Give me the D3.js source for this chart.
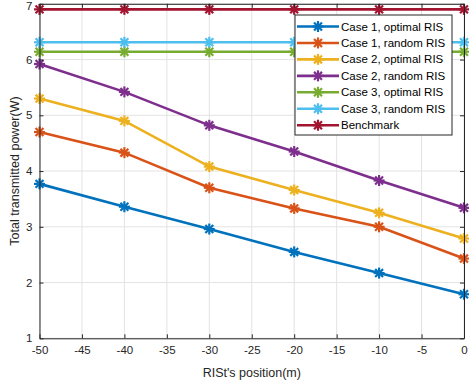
<!DOCTYPE html>
<html>
<head>
<meta charset="utf-8">
<script src="https://cdn.jsdelivr.net/npm/d3@7"></script>
<style>
  html, body { margin: 0; padding: 0; background: #fff; }
  svg { display: block; font-family: "Liberation Sans", Arial, Helvetica, sans-serif; }
</style>
</head>
<body>
<svg id="chart" width="469" height="389"></svg>
<script>
// RIS position (m) on the x axis
const positions = [-50, -40, -30, -20, -10, 0];

// Total transmitted power (W) per scheme
const case1Optimal = [3.77, 3.36, 2.96, 2.55, 2.17, 1.79];
const case1Random  = [4.70, 4.33, 3.70, 3.33, 3.00, 2.43];
const case2Optimal = [5.30, 4.90, 4.08, 3.66, 3.25, 2.79];
const case2Random  = [5.92, 5.42, 4.82, 4.35, 3.83, 3.34];
const case3Optimal = [6.14, 6.14, 6.14, 6.14, 6.14, 6.14];
const case3Random  = [6.31, 6.31, 6.31, 6.31, 6.31, 6.31];
const benchmark    = [6.90, 6.90, 6.90, 6.90, 6.90, 6.90];

const seriesNames = [
  "Case 1, optimal RIS", "Case 1, random RIS",
  "Case 2, optimal RIS", "Case 2, random RIS",
  "Case 3, optimal RIS", "Case 3, random RIS",
  "Benchmark"
];
const seriesValues = [case1Optimal, case1Random, case2Optimal, case2Random, case3Optimal, case3Random, benchmark];
const seriesColors = ["#0072BD", "#D95319", "#EDB120", "#7E2F8E", "#77AC30", "#4DBEEE", "#A2142F"];

const xTicks = [-50, -45, -40, -35, -30, -25, -20, -15, -10, -5, 0];
const yTicks = [1, 2, 3, 4, 5, 6, 7];

const plot = { left: 39.5, right: 464, top: 3.8, bottom: 338.3 };

const svg = d3.select("#chart");
const x = d3.scaleLinear().domain([-50, 0]).range([plot.left, plot.right]);
const y = d3.scaleLinear().domain([1, 7]).range([plot.bottom, plot.top]);

const axisColor = "#262626";
const plain = d => String(d);

// grid
const grid = svg.append("g");
grid.selectAll("line.gx").data(xTicks).join("line")
  .attr("x1", d => x(d)).attr("x2", d => x(d))
  .attr("y1", plot.top).attr("y2", plot.bottom)
  .attr("stroke", "#e3e3e3").attr("stroke-width", 1);
grid.selectAll("line.gy").data(yTicks).join("line")
  .attr("x1", plot.left).attr("x2", plot.right)
  .attr("y1", d => y(d)).attr("y2", d => y(d))
  .attr("stroke", "#e3e3e3").attr("stroke-width", 1);

// axes with inward ticks on all four sides
const tickLen = 4;
const xAxisB = d3.axisBottom(x).tickValues(xTicks).tickFormat(plain).tickSizeInner(-tickLen).tickSizeOuter(0).tickPadding(8);
const xAxisT = d3.axisTop(x).tickValues(xTicks).tickSizeInner(-tickLen).tickSizeOuter(0).tickFormat("");
const yAxisL = d3.axisLeft(y).tickValues(yTicks).tickFormat(plain).tickSizeInner(-tickLen).tickSizeOuter(0).tickPadding(7);
const yAxisR = d3.axisRight(y).tickValues(yTicks).tickSizeInner(-tickLen).tickSizeOuter(0).tickFormat("");

function styleAxis(g) {
  g.selectAll("path").attr("stroke", axisColor).attr("stroke-width", 1);
  g.selectAll("line").attr("stroke", axisColor).attr("stroke-width", 1);
  g.selectAll("text").attr("fill", axisColor).style("font-size", "11.5px")
    .style("font-family", '"Liberation Sans", Arial, sans-serif');
}

// lines and asterisk markers
const line = d3.line().x(d => x(d[0])).y(d => y(d[1]));
const r = 5.5, rd = r * 0.72;
function asterisk(g, cx, cy, color) {
  const segs = [[-r, 0, r, 0], [0, -r, 0, r], [-rd, -rd, rd, rd], [-rd, rd, rd, -rd]];
  segs.forEach(s => g.append("line")
    .attr("x1", cx + s[0]).attr("y1", cy + s[1]).attr("x2", cx + s[2]).attr("y2", cy + s[3])
    .attr("stroke", color).attr("stroke-width", 2.2));
}

const marks = svg.append("g");
seriesValues.forEach((vals, i) => {
  const pts = positions.map((p, j) => [p, vals[j]]);
  marks.append("path").datum(pts)
    .attr("d", line).attr("fill", "none")
    .attr("stroke", seriesColors[i]).attr("stroke-width", 2.6);
  const mg = marks.append("g");
  pts.forEach(p => asterisk(mg, x(p[0]), y(p[1]), seriesColors[i]));
});

svg.append("g").attr("transform", `translate(0,${plot.bottom})`).call(xAxisB).call(styleAxis);
svg.append("g").attr("transform", `translate(0,${plot.top})`).call(xAxisT).call(styleAxis);
const yAxisG = svg.append("g").attr("transform", `translate(${plot.left},0)`).call(yAxisL).call(styleAxis);
// keep the top label inside the frame
yAxisG.selectAll(".tick text").filter(d => d === 7).attr("dy", "0.5em");

svg.append("g").attr("transform", `translate(${plot.right},0)`).call(yAxisR).call(styleAxis);

// axis titles
svg.append("text")
  .attr("x", (plot.left + plot.right) / 2).attr("y", 377)
  .attr("text-anchor", "middle").attr("fill", axisColor)
  .style("font-size", "12.5px")
  .text("RISt's position(m)");
svg.append("text")
  .attr("transform", `translate(19,${(plot.top + plot.bottom) / 2}) rotate(-90)`)
  .attr("text-anchor", "middle").attr("fill", axisColor)
  .style("font-size", "12.5px")
  .text("Total transmitted power(W)");

// legend
const legend = svg.append("g");
const lg = { x: 295, y: 15, w: 157, h: 120, row: 16.45, first: 26.5 };
legend.append("rect")
  .attr("x", lg.x).attr("y", lg.y).attr("width", lg.w).attr("height", lg.h)
  .attr("fill", "#fff").attr("stroke", axisColor).attr("stroke-width", 1);
seriesNames.forEach((name, i) => {
  const cy = lg.first + i * lg.row;
  legend.append("line")
    .attr("x1", 297).attr("x2", 339).attr("y1", cy).attr("y2", cy)
    .attr("stroke", seriesColors[i]).attr("stroke-width", 2.6);
  asterisk(legend, 318, cy, seriesColors[i]);
  legend.append("text")
    .attr("x", 341).attr("y", cy).attr("dy", "0.35em")
    .attr("fill", "#000").style("font-size", "11.5px")
    .text(name);
});
</script>
</body>
</html>
